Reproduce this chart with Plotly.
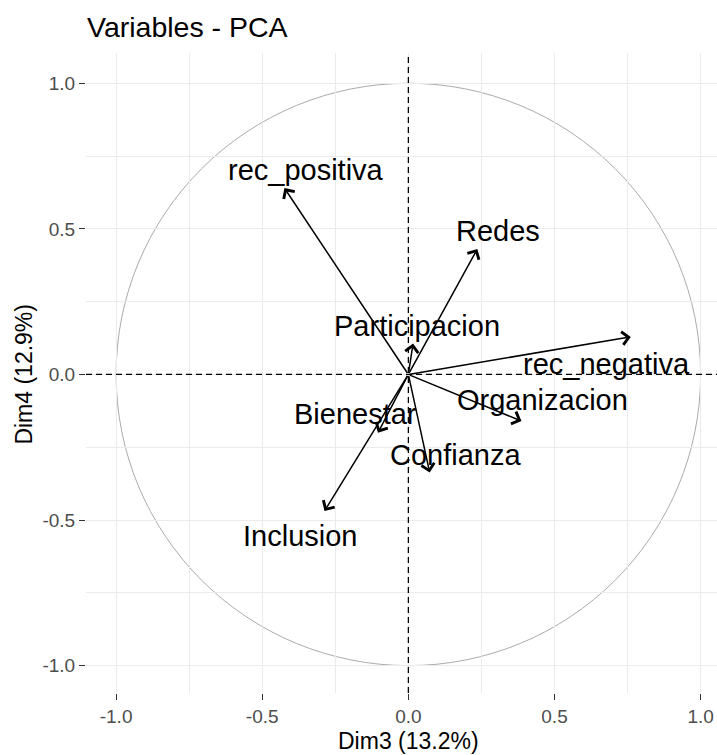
import plotly.graph_objects as go

# PCA variable coordinates (Dim3, Dim4)
variables = ['rec_positiva', 'Redes', 'Participacion', 'rec_negativa',
             'Organizacion', 'Confianza', 'Bienestar', 'Inclusion']
dim3 = [-0.424, 0.236, 0.016, 0.761, 0.387, 0.073, -0.104, -0.287]
dim4 = [0.640, 0.431, 0.106, 0.129, -0.160, -0.337, -0.200, -0.469]

x_title = 'Dim3 (13.2%)'
y_title = 'Dim4 (12.9%)'
tick_vals = [-1.0, -0.5, 0.0, 0.5, 1.0]
tick_text = ['-1.0', '-0.5', '0.0', '0.5', '1.0']

# label offsets from arrow tip in pixels (repelled labels)
label_shift = {
    'rec_positiva': (22, 18),
    'Redes': (21, 18),
    'Participacion': (4, 18),
    'rec_negativa': (-24, -27),
    'Organizacion': (21, 21),
    'Confianza': (26, 18),
    'Bienestar': (-22, 19),
    'Inclusion': (-24, -25),
}

FONT = 'Liberation Sans, Arial, sans-serif'
GRID = '#EBEBEB'

fig = go.Figure()

# invisible trace so the axes exist
fig.add_trace(go.Scatter(x=dim3, y=dim4, mode='markers',
                         marker=dict(opacity=0), hoverinfo='skip', showlegend=False))

shapes = [
    dict(type='circle', xref='x', yref='y', x0=-1, y0=-1, x1=1, y1=1,
         line=dict(color='#ABABAB', width=1), layer='below'),
    dict(type='line', xref='paper', yref='y', x0=0, x1=1, y0=0, y1=0,
         line=dict(color='black', width=1.3, dash='6px,4px')),
    dict(type='line', xref='x', yref='paper', x0=0, x1=0, y0=0, y1=1,
         line=dict(color='black', width=1.3, dash='6px,4px')),
]

annotations = []
for name, x, y in zip(variables, dim3, dim4):
    annotations.append(dict(
        x=x, y=y, ax=0, ay=0, xref='x', yref='y', axref='x', ayref='y',
        showarrow=True, arrowhead=4, arrowsize=1.7, arrowwidth=1.5,
        arrowcolor='black', text='', standoff=0, startstandoff=0))
    dx, dy = label_shift[name]
    annotations.append(dict(
        x=x, y=y, xref='x', yref='y', text=name, showarrow=False,
        xshift=dx, yshift=dy, xanchor='center', yanchor='middle',
        font=dict(family=FONT, size=29, color='black')))

# axis titles
annotations.append(dict(x=0, y=-0.0757, xref='x', yref='paper', text=x_title,
                        showarrow=False, xanchor='center', yanchor='middle',
                        font=dict(family=FONT, size=23, color='black')))
annotations.append(dict(x=-0.098, y=0, xref='paper', yref='y', text=y_title,
                        showarrow=False, textangle=-90, xanchor='center', yanchor='middle',
                        font=dict(family=FONT, size=23, color='black')))

axis_style = dict(
    tickvals=tick_vals, ticktext=tick_text,
    ticks='outside', ticklen=6, tickwidth=1.3, tickcolor='#333333',
    tickfont=dict(family=FONT, size=19, color='#4D4D4D'),
    showgrid=True, gridcolor=GRID, gridwidth=1.1,
    minor=dict(dtick=0.25, tick0=0, showgrid=True, gridcolor=GRID, gridwidth=1, ticks=''),
    zeroline=False, showline=False,
)

fig.update_layout(
    width=717, height=755,
    margin=dict(l=86, r=0, t=53, b=62),
    paper_bgcolor='white', plot_bgcolor='white',
    title=dict(text='Variables - PCA', x=87 / 717, xanchor='left', xref='container',
               y=1 - 27 / 755, yanchor='middle', yref='container',
               font=dict(family=FONT, size=28.5, color='black')),
    xaxis=dict(range=[-1.103, 1.056], **axis_style),
    yaxis=dict(range=[-1.094, 1.104], **axis_style),
    shapes=shapes,
    annotations=annotations,
    showlegend=False,
)

# drop the default page margin so the figure sits at the window's corner
fig.write_html("out.html", config={'displayModeBar': False},
               post_script="document.body.style.margin='0';")
